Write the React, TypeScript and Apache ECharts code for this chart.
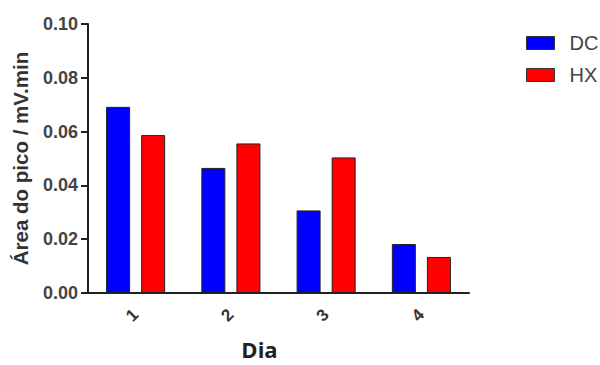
import React, { useEffect, useRef } from "react";
import * as echarts from "echarts";

const days = ["1", "2", "3", "4"];
const dcValues = [0.0692, 0.0465, 0.0307, 0.0182];
const hxValues = [0.0587, 0.0556, 0.0504, 0.0134];
const seriesNames = ["DC", "HX"];
const seriesColors = ["#0000ff", "#ff0000"];

const sans = "Liberation Sans";

export default function App() {
  const ref = useRef<HTMLDivElement>(null);

  useEffect(() => {
    if (!ref.current) return;
    const chart = echarts.init(ref.current, null, { renderer: "svg" });
    const barStyle = (color: string) => ({
      color,
      borderColor: "#222",
      borderWidth: 1,
    });
    chart.setOption({
      animation: false,
      backgroundColor: "#fff",
      grid: { left: 88, top: 24, right: 131, bottom: 66 },
      legend: {
        orient: "vertical",
        left: 526,
        top: 33,
        padding: 0,
        itemWidth: 28,
        itemHeight: 13,
        itemGap: 12,
        icon: "rect",
        data: seriesNames.map((n, i) => ({
          name: n,
          itemStyle: { color: seriesColors[i], borderColor: "#333", borderWidth: 1 },
        })),
        textStyle: {
          fontFamily: sans,
          fontSize: 20,
          color: "#444",
          padding: [0, 0, 0, 10],
        },
      },
      xAxis: {
        type: "category",
        data: days,
        name: "Dia",
        nameLocation: "middle",
        nameGap: 45,
        nameTextStyle: {
          fontFamily: "Open Sans",
          fontWeight: "bold",
          fontSize: 22,
          color: "#222",
          padding: [0, 38, 0, 0],
        },
        axisLine: { lineStyle: { color: "#222", width: 2 } },
        axisTick: { alignWithLabel: true, length: 5, lineStyle: { color: "#222", width: 2 } },
        axisLabel: {
          rotate: 45,
          margin: 19,
          fontFamily: sans,
          fontWeight: "bold",
          fontSize: 17,
          color: "#333",
        },
      },
      yAxis: {
        type: "value",
        min: 0,
        max: 0.1,
        interval: 0.02,
        name: "Área do pico / mV.min",
        nameLocation: "middle",
        nameGap: 57,
        nameTextStyle: {
          fontFamily: sans,
          fontWeight: "bold",
          fontSize: 20.5,
          color: "#333",
        },
        axisLine: { show: true, lineStyle: { color: "#222", width: 2 } },
        axisTick: { show: true, length: 7, lineStyle: { color: "#222", width: 2 } },
        splitLine: { show: false },
        axisLabel: {
          margin: 10,
          formatter: (v: number) => v.toFixed(2),
          fontFamily: sans,
          fontWeight: "bold",
          fontSize: 18,
          color: "#444",
        },
      },
      series: [
        {
          name: seriesNames[0],
          type: "bar",
          data: dcValues,
          barWidth: 24,
          barGap: "46%",
          itemStyle: barStyle(seriesColors[0]),
        },
        {
          name: seriesNames[1],
          type: "bar",
          data: hxValues,
          barWidth: 24,
          barGap: "46%",
          itemStyle: barStyle(seriesColors[1]),
        },
      ],
    });
    return () => chart.dispose();
  }, []);

  return <div ref={ref} style={{ width: 600, height: 365, position: "absolute", left: 0, top: 0 }} />;
}
